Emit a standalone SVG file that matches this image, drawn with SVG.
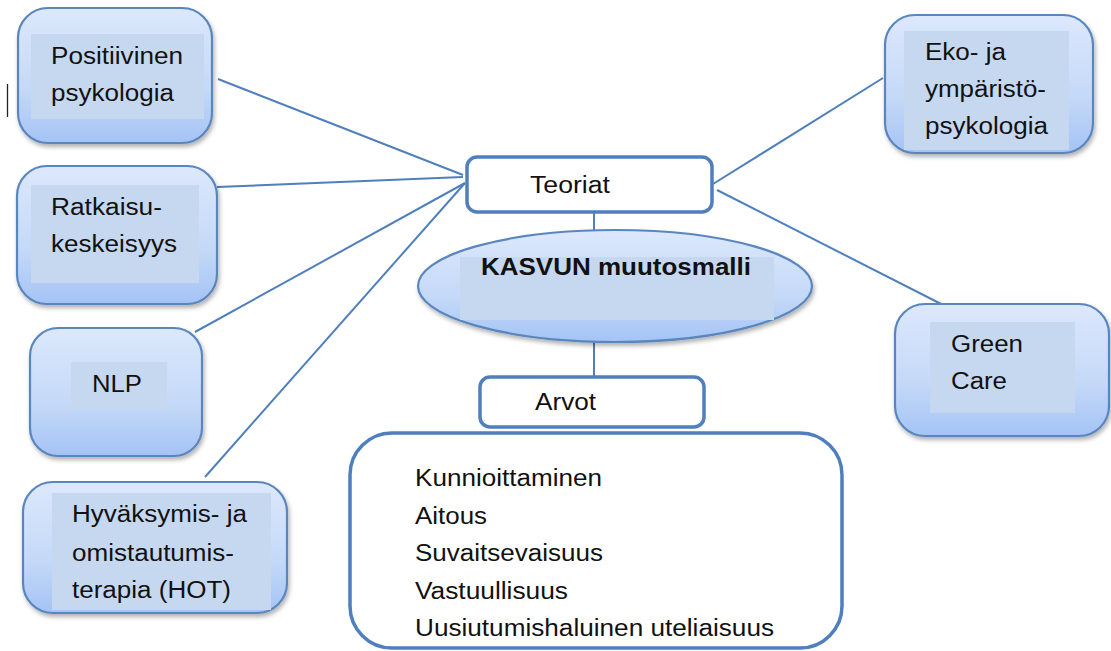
<svg xmlns="http://www.w3.org/2000/svg" width="1111" height="651" viewBox="0 0 1111 651">
  <defs>
    <linearGradient id="boxFill" x1="0" y1="0" x2="0" y2="1">
      <stop offset="0" stop-color="#dce8fc"/>
      <stop offset="0.6" stop-color="#c4d9f8"/>
      <stop offset="1" stop-color="#a4c3f5"/>
    </linearGradient>
    <filter id="shadow" x="-10%" y="-10%" width="125%" height="130%">
      <feDropShadow dx="1.5" dy="3" stdDeviation="2.2" flood-color="#000" flood-opacity="0.3"/>
    </filter>
    <style>
      .node { fill: url(#boxFill); stroke: #5a86be; stroke-width: 2.2; filter: url(#shadow); }
      .inner { fill: #c6d8f0; }
      .frame { fill: #fff; stroke: #4f7fbd; stroke-width: 3.5; }
      .conn { stroke: #4f7fbd; stroke-width: 2; fill: none; }
      text { font-family: "Liberation Sans", Arial, sans-serif; font-size: 23px; fill: #111; }
      .bold { font-weight: bold; }
    </style>
  </defs>

  <rect width="1111" height="651" fill="#fff"/>

  <!-- text cursor mark at the left margin -->
  <line x1="7.5" y1="84" x2="7.5" y2="117" stroke="#222" stroke-width="1.3"/>

  <!-- connectors -->
  <g id="connectors">
    <line class="conn" x1="218" y1="79" x2="463" y2="175"/>
    <line class="conn" x1="217" y1="187" x2="463" y2="177"/>
    <line class="conn" x1="195" y1="332" x2="465" y2="183"/>
    <line class="conn" x1="205" y1="477" x2="465" y2="183"/>
    <line class="conn" x1="713" y1="184" x2="883" y2="78"/>
    <line class="conn" x1="717" y1="190" x2="947" y2="307"/>
    <line class="conn" x1="594" y1="212" x2="594" y2="231"/>
    <line class="conn" x1="594" y1="342" x2="594" y2="378"/>
  </g>

  <!-- left theories -->
  <g id="positiivinen">
    <rect class="node" x="18" y="8" width="194" height="135" rx="30"/>
    <rect class="inner" x="31" y="34" width="173" height="85"/>
    <text x="51" y="64" textLength="132" lengthAdjust="spacingAndGlyphs">Positiivinen</text>
    <text x="51" y="101" textLength="123" lengthAdjust="spacingAndGlyphs">psykologia</text>
  </g>

  <g id="ratkaisu">
    <rect class="node" x="17" y="166" width="200" height="138" rx="30"/>
    <rect class="inner" x="31" y="185" width="168" height="98"/>
    <text x="51" y="215" textLength="111" lengthAdjust="spacingAndGlyphs">Ratkaisu-</text>
    <text x="51" y="252" textLength="126" lengthAdjust="spacingAndGlyphs">keskeisyys</text>
  </g>

  <g id="nlp">
    <rect class="node" x="30" y="328" width="172" height="128" rx="28"/>
    <rect class="inner" x="71" y="362" width="96" height="48"/>
    <text x="92" y="392" textLength="50" lengthAdjust="spacingAndGlyphs">NLP</text>
  </g>

  <g id="hot">
    <rect class="node" x="23" y="482" width="264" height="131" rx="30"/>
    <rect class="inner" x="52" y="493" width="219" height="117"/>
    <text x="72" y="522" textLength="175" lengthAdjust="spacingAndGlyphs">Hyväksymis- ja</text>
    <text x="72" y="561" textLength="162" lengthAdjust="spacingAndGlyphs">omistautumis-</text>
    <text x="72" y="598" textLength="159" lengthAdjust="spacingAndGlyphs">terapia (HOT)</text>
  </g>

  <!-- right theories -->
  <g id="eko">
    <rect class="node" x="885" y="15" width="208" height="138" rx="30"/>
    <rect class="inner" x="904" y="31" width="165" height="119"/>
    <text x="925" y="60" textLength="81" lengthAdjust="spacingAndGlyphs">Eko- ja</text>
    <text x="925" y="97" textLength="121" lengthAdjust="spacingAndGlyphs">ympäristö-</text>
    <text x="925" y="134" textLength="123" lengthAdjust="spacingAndGlyphs">psykologia</text>
  </g>

  <g id="greencare">
    <rect class="node" x="895" y="304" width="214" height="132" rx="30"/>
    <rect class="inner" x="930" y="322" width="145" height="91"/>
    <text x="951" y="352" textLength="72" lengthAdjust="spacingAndGlyphs">Green</text>
    <text x="951" y="389" textLength="56" lengthAdjust="spacingAndGlyphs">Care</text>
  </g>

  <!-- centre -->
  <g id="teoriat">
    <rect class="frame" x="467" y="157" width="245" height="55" rx="10"/>
    <text x="530" y="193" textLength="80" lengthAdjust="spacingAndGlyphs">Teoriat</text>
  </g>

  <g id="kasvun">
    <ellipse class="node" cx="615" cy="286" rx="197" ry="56"/>
    <rect class="inner" x="460" y="257" width="314" height="63"/>
    <text class="bold" x="481" y="275" textLength="270" lengthAdjust="spacingAndGlyphs">KASVUN muutosmalli</text>
  </g>

  <g id="arvot">
    <rect class="frame" x="480" y="377" width="224" height="50" rx="10"/>
    <text x="535" y="410" textLength="61" lengthAdjust="spacingAndGlyphs">Arvot</text>
  </g>

  <g id="arvolista">
    <rect class="frame" x="350" y="433" width="492" height="215" rx="42"/>
    <text x="415" y="486" textLength="187" lengthAdjust="spacingAndGlyphs">Kunnioittaminen</text>
    <text x="415" y="524" textLength="72" lengthAdjust="spacingAndGlyphs">Aitous</text>
    <text x="415" y="561" textLength="188" lengthAdjust="spacingAndGlyphs">Suvaitsevaisuus</text>
    <text x="415" y="599" textLength="153" lengthAdjust="spacingAndGlyphs">Vastuullisuus</text>
    <text x="415" y="636" textLength="359" lengthAdjust="spacingAndGlyphs">Uusiutumishaluinen uteliaisuus</text>
  </g>
</svg>
